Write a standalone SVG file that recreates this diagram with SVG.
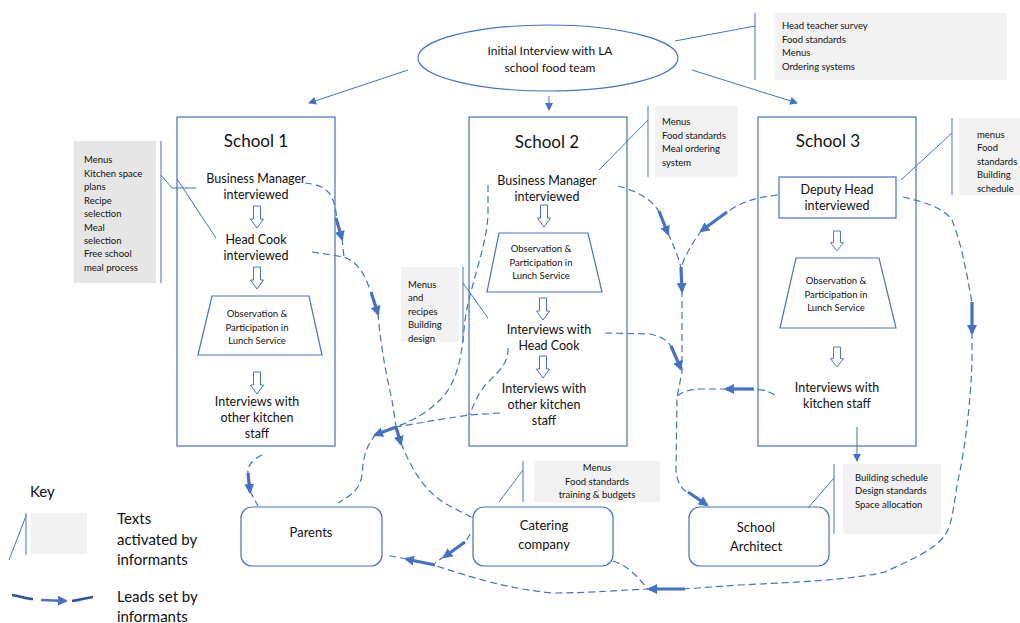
<svg xmlns="http://www.w3.org/2000/svg" width="1020" height="623" viewBox="0 0 1020 623">
<defs>
<style>
text{font-family:Lato,"Liberation Sans",sans-serif;fill:#111}
.box{fill:#fff;stroke:#4472C4;stroke-width:1.2}
.note{fill:#F2F2F2}
.noteD{fill:#E6E6E6}
.ln{fill:none;stroke:#4472C4;stroke-width:1}
.dash{fill:none;stroke:#4472C4;stroke-width:1.2;stroke-dasharray:7 4}
.lead{fill:none;stroke:#4472C4;stroke-width:3.2}
.big{font-size:17px;text-anchor:middle}
.m{font-size:12.5px;text-anchor:middle}
.n{font-size:13px;text-anchor:middle}
.s{font-size:9.5px}
.sc{font-size:9.5px;text-anchor:middle}
.k{font-size:15px}
.harrow{fill:#fff;stroke:#4472C4;stroke-width:1}
</style>
<marker id="thin" markerUnits="userSpaceOnUse" markerWidth="10" markerHeight="10" refX="7" refY="4" orient="auto"><path d="M0,0 L8,4 L0,8 Z" fill="#4472C4"/></marker>
<marker id="thick" markerUnits="userSpaceOnUse" markerWidth="12" markerHeight="12" refX="8" refY="5" orient="auto"><path d="M0,0 L10,5 L0,10 Z" fill="#4472C4"/></marker>
<path id="ha" d="M-3.5,0 H3.5 V13 H6.5 L0,22 L-6.5,13 H-3.5 Z"/>
</defs>
<rect width="1020" height="623" fill="#fff"/>

<g id="initial">
<ellipse cx="548" cy="58" rx="130" ry="33" class="box"/>
<text class="m" x="550" y="55" style="font-size:12px">Initial Interview with LA</text>
<text class="m" x="550" y="72" style="font-size:12px">school food team</text>
</g>
<g id="note-la">
<rect x="775" y="13" width="232" height="67" class="note"/>
<line x1="755" y1="13" x2="755" y2="80" class="ln"/>
<text class="s" x="782" y="29">Head teacher survey</text>
<text class="s" x="782" y="43">Food standards</text>
<text class="s" x="782" y="56">Menus</text>
<text class="s" x="782" y="70">Ordering systems</text>
</g>

<g id="school1">
<rect x="177" y="117" width="158" height="329" class="box"/>
<text class="big" x="256" y="147">School 1</text>
<text class="m" x="256" y="183">Business Manager</text>
<text class="m" x="256" y="199">interviewed</text>
<use href="#ha" x="257" y="206" class="harrow"/>
<text class="m" x="256" y="244">Head Cook</text>
<text class="m" x="256" y="260">interviewed</text>
<use href="#ha" x="257" y="267" class="harrow"/>
<path d="M212,296 H309 L322,355 H198 Z" class="box"/>
<text class="sc" x="257" y="317">Observation &amp;</text>
<text class="sc" x="257" y="331">Participation in</text>
<text class="sc" x="257" y="344">Lunch Service</text>
<use href="#ha" x="257" y="372" class="harrow"/>
<text class="m" x="257" y="406">Interviews with</text>
<text class="m" x="257" y="422">other kitchen</text>
<text class="m" x="257" y="438">staff</text>
</g>
<g id="note-s1">
<rect x="74" y="141" width="82" height="142" class="noteD"/>
<line x1="161" y1="141" x2="161" y2="283" class="ln"/>
<text class="s" x="84" y="163">Menus</text>
<text class="s" x="84" y="177">Kitchen space</text>
<text class="s" x="84" y="190">plans</text>
<text class="s" x="84" y="204">Recipe</text>
<text class="s" x="84" y="217">selection</text>
<text class="s" x="84" y="231">Meal</text>
<text class="s" x="84" y="244">selection</text>
<text class="s" x="84" y="257">Free school</text>
<text class="s" x="84" y="271">meal process</text>
<path d="M161,175 L172,188 H196" class="ln"/>
<line x1="177" y1="179" x2="216" y2="238" class="ln"/>
</g>

<g id="school2">
<rect x="469" y="117" width="158" height="329" class="box"/>
<text class="big" x="547" y="148">School 2</text>
<text class="m" x="547" y="185">Business Manager</text>
<text class="m" x="547" y="201">interviewed</text>
<use href="#ha" x="544" y="205" class="harrow"/>
<path d="M499,233 H588 L602,292 H487 Z" class="box"/>
<text class="sc" x="541" y="252">Observation &amp;</text>
<text class="sc" x="541" y="266">Participation in</text>
<text class="sc" x="541" y="279">Lunch Service</text>
<use href="#ha" x="543" y="298" class="harrow"/>
<text class="m" x="549" y="334">Interviews with</text>
<text class="m" x="549" y="350">Head Cook</text>
<use href="#ha" x="543" y="356" class="harrow"/>
<text class="m" x="544" y="393">Interviews with</text>
<text class="m" x="544" y="409">other kitchen</text>
<text class="m" x="544" y="425">staff</text>
</g>
<g id="note-s2">
<rect x="655" y="106" width="83" height="71" class="note"/>
<line x1="648" y1="106" x2="648" y2="177" class="ln"/>
<text class="s" x="662" y="125">Menus</text>
<text class="s" x="662" y="139">Food standards</text>
<text class="s" x="662" y="152">Meal ordering</text>
<text class="s" x="662" y="166">system</text>
<line x1="648" y1="120" x2="599" y2="170" class="ln"/>
</g>
<g id="note-s2b">
<rect x="401" y="267" width="58" height="75" class="note"/>
<line x1="463" y1="267" x2="463" y2="342" class="ln"/>
<text class="s" x="408" y="288">Menus</text>
<text class="s" x="408" y="301">and</text>
<text class="s" x="408" y="315">recipes</text>
<text class="s" x="408" y="328">Building</text>
<text class="s" x="408" y="342">design</text>
<line x1="463" y1="283" x2="488" y2="318" class="ln"/>
</g>

<g id="school3">
<rect x="758" y="117" width="158" height="329" class="box"/>
<text class="big" x="828" y="147">School 3</text>
<rect x="779" y="177" width="117" height="41" class="box"/>
<text class="m" x="837" y="194">Deputy Head</text>
<text class="m" x="837" y="210">interviewed</text>
<use href="#ha" x="837" y="231" class="harrow" transform="translate(837 231) scale(1 0.9) translate(-837 -231)"/>
<path d="M796,258 H879 L896,328 H780 Z" class="box"/>
<text class="sc" x="836" y="284">Observation &amp;</text>
<text class="sc" x="836" y="298">Participation in</text>
<text class="sc" x="836" y="311">Lunch Service</text>
<use href="#ha" x="837" y="347" class="harrow" transform="translate(837 347) scale(1 0.9) translate(-837 -347)"/>
<text class="m" x="837" y="392">Interviews with</text>
<text class="m" x="837" y="408">kitchen staff</text>
</g>
<g id="note-s3">
<rect x="959" y="118" width="61" height="77" class="note"/>
<line x1="952" y1="118" x2="952" y2="195" class="ln"/>
<text class="s" x="977" y="138">menus</text>
<text class="s" x="977" y="151">Food</text>
<text class="s" x="977" y="165">standards</text>
<text class="s" x="977" y="178">Building</text>
<text class="s" x="977" y="192">schedule</text>
<line x1="952" y1="133" x2="901" y2="180" class="ln"/>
</g>

<g id="parents">
<rect x="241" y="507" width="141" height="59" rx="11" class="box"/>
<text class="n" x="311" y="537">Parents</text>
</g>
<g id="catering">
<rect x="473" y="507" width="140" height="59" rx="11" class="box"/>
<text class="n" x="544" y="530">Catering</text>
<text class="n" x="544" y="549">company</text>
</g>
<g id="note-cat">
<rect x="534" y="461" width="126" height="41" class="note"/>
<line x1="523" y1="461" x2="523" y2="502" class="ln"/>
<text class="sc" x="597" y="471">Menus</text>
<text class="sc" x="597" y="485">Food standards</text>
<text class="sc" x="597" y="498">training &amp; budgets</text>
<line x1="523" y1="470" x2="499" y2="502" class="ln"/>
</g>
<g id="architect">
<rect x="689" y="507" width="140" height="59" rx="11" class="box"/>
<text class="n" x="756" y="532">School</text>
<text class="n" x="756" y="551">Architect</text>
</g>
<g id="note-arch">
<rect x="843" y="464" width="98" height="70" class="note"/>
<line x1="834" y1="464" x2="834" y2="534" class="ln"/>
<text class="s" x="855" y="481">Building schedule</text>
<text class="s" x="855" y="494">Design standards</text>
<text class="s" x="855" y="508">Space allocation</text>
<line x1="834" y1="478" x2="808" y2="508" class="ln"/>
</g>

<g id="key">
<text class="k" x="30" y="497">Key</text>
<line x1="26" y1="513" x2="26" y2="555" class="ln"/>
<line x1="26" y1="516" x2="9" y2="560" class="ln"/>
<rect x="31" y="513" width="56" height="41" class="note"/>
<text class="k" x="117" y="524">Texts</text>
<text class="k" x="117" y="545">activated by</text>
<text class="k" x="117" y="565">informants</text>
<path d="M12,595 C20,596 26,599 33,599" class="lead" style="stroke:#2F5597;stroke-width:2.5"/>
<line x1="41" y1="600" x2="66" y2="601" class="lead" style="stroke-width:2.5" marker-end="url(#thick)"/>
<path d="M72,601 C80,600 86,598 93,597" class="lead" style="stroke:#2F5597;stroke-width:2.5"/>
<text class="k" x="117" y="602">Leads set by</text>
<text class="k" x="117" y="622">informants</text>
</g>

<g id="connectors">
<line x1="408" y1="70" x2="309" y2="103" class="ln" marker-end="url(#thin)"/>
<line x1="549" y1="96" x2="549" y2="110" class="ln" marker-end="url(#thin)"/>
<line x1="692" y1="70" x2="797" y2="103" class="ln" marker-end="url(#thin)"/>
<line x1="675" y1="41" x2="755" y2="26" class="ln"/>
<line x1="857" y1="427" x2="857" y2="461" class="ln" marker-end="url(#thin)"/>

<path d="M305,183 C325,185 333,192 336,212 L337,220" class="dash"/>
<path d="M342,238 L344,257" class="dash"/>
<path d="M312,252 L344,257 C358,262 365,275 370,290" class="dash"/>
<path d="M378,313 C380,340 385,370 392,400 L396,426" class="dash"/>
<path d="M401,443 C410,465 420,485 440,500 C450,507 462,512 473,518" class="dash"/>
<path d="M488,185 L488,215 C486,250 470,285 465,320 C462,350 460,380 440,400 C425,415 405,424 395,427" class="dash"/>
<path d="M508,348 C508,365 498,372 488,382 C478,393 473,405 470,415" class="dash"/>
<path d="M500,413 L470,415 C440,419 415,424 395,427" class="dash"/>
<path d="M376,434 C365,447 363,460 362,475 C360,490 350,496 338,503" class="dash"/>
<path d="M262,455 C252,460 247,466 248,474" class="dash"/>
<path d="M250,491 L258,506" class="dash"/>
<path d="M618,186 C640,192 652,200 660,213" class="dash"/>
<path d="M668,233 C673,245 678,255 681,268" class="dash"/>
<path d="M778,195 C755,197 740,203 727,212" class="dash"/>
<path d="M702,230 C693,242 685,255 681,268" class="dash"/>
<path d="M605,333 L650,334 C660,336 668,340 672,348" class="dash"/>
<path d="M682,290 L682,372 L677,397 L676,470 C677,483 682,490 689,493" class="dash"/>
<path d="M775,395 C768,391 762,389 752,389" class="dash"/>
<path d="M727,389 L700,389 C688,390 680,392 677,397" class="dash"/>
<path d="M903,197 C930,203 945,210 952,220 C962,245 967,275 972,303" class="dash"/>
<path d="M972,332 L972,360 C971,400 965,450 958,480 C953,510 952,525 945,535 C935,550 910,560 885,572 C850,580 800,582 740,585 L683,589" class="dash"/>
<path d="M650,589 C620,590 590,593 553,593 C530,591 510,587 490,582 C470,577 450,570 433,565" class="dash"/>
<path d="M407,559 L385,555" class="dash"/>
<path d="M613,561 C625,565 633,572 640,580 L648,589" class="dash"/>
<path d="M470,534 C468,538 467,540 464,543" class="dash"/>
<path d="M445,556 L435,563" class="dash"/>

<line x1="336" y1="218" x2="342" y2="239" class="lead" marker-end="url(#thick)"/>
<line x1="371" y1="292" x2="378" y2="314" class="lead" marker-end="url(#thick)"/>
<line x1="396" y1="427" x2="401" y2="444" class="lead" marker-end="url(#thick)"/>
<line x1="396" y1="427" x2="375" y2="435" class="lead" marker-end="url(#thick)"/>
<line x1="248" y1="473" x2="250" y2="492" class="lead" marker-end="url(#thick)"/>
<line x1="659" y1="211" x2="668" y2="234" class="lead" marker-end="url(#thick)"/>
<line x1="727" y1="212" x2="701" y2="231" class="lead" marker-end="url(#thick)"/>
<line x1="681" y1="267" x2="682" y2="291" class="lead" marker-end="url(#thick)"/>
<line x1="671" y1="346" x2="681" y2="369" class="lead" marker-end="url(#thick)"/>
<line x1="754" y1="389" x2="726" y2="389" class="lead" marker-end="url(#thick)"/>
<line x1="688" y1="492" x2="707" y2="505" class="lead" marker-end="url(#thick)"/>
<line x1="972" y1="302" x2="972" y2="333" class="lead" marker-end="url(#thick)"/>
<line x1="685" y1="589" x2="649" y2="589" class="lead" marker-end="url(#thick)"/>
<line x1="465" y1="542" x2="444" y2="557" class="lead" marker-end="url(#thick)"/>
<line x1="435" y1="565" x2="406" y2="559" class="lead" marker-end="url(#thick)"/>
</g>
</svg>
